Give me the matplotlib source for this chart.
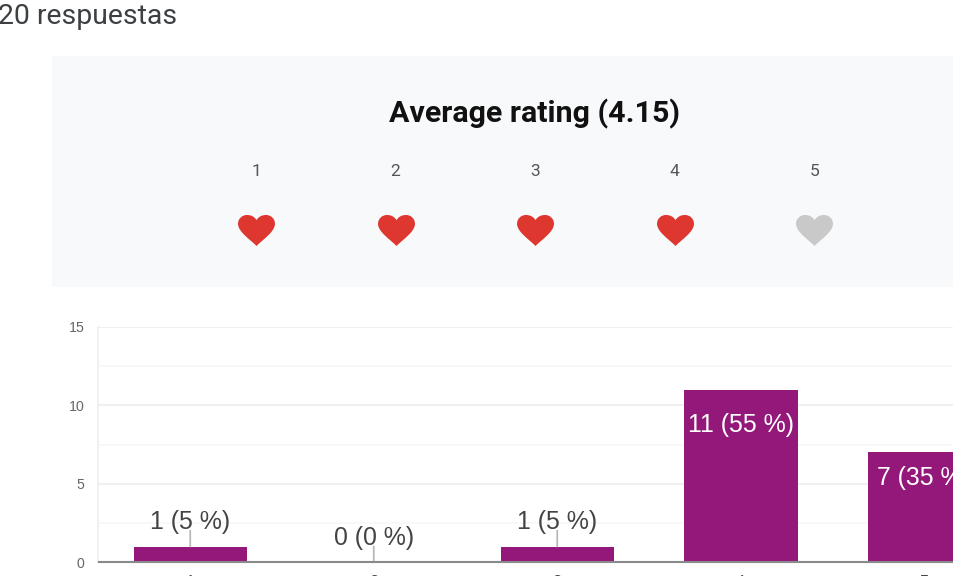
"""Resumen de respuestas: valoración media y gráfico de barras."""

import matplotlib

matplotlib.use("Agg")

import matplotlib.pyplot as plt
from matplotlib.patches import Rectangle
from matplotlib.path import Path

W, H = 954, 576

categories = ["1", "2", "3", "4", "5"]
counts = [1, 0, 1, 11, 7]
bar_labels = ["1 (5 %)", "0 (0 %)", "1 (5 %)", "11 (55 %)", "7 (35 %)"]
rating_levels = ["1", "2", "3", "4", "5"]
rating_filled = [True, True, True, True, False]
y_ticks = [0, 5, 10, 15]
y_minor_ticks = [2.5, 7.5, 12.5]
responses_text = "20 respuestas"
rating_title = "Average rating (4.15)"

PURPLE = "#94187A"
RED = "#DE3730"
GREY = "#C9C9C9"

# corazón más ancho que alto, con lóbulos redondos
HEART = Path(
    [
        (0, -0.42),
        (-0.16, -0.25), (-0.50, -0.04), (-0.50, 0.18),
        (-0.50, 0.33), (-0.38, 0.42), (-0.26, 0.42),
        (-0.14, 0.42), (-0.05, 0.37), (0, 0.28),
        (0.05, 0.37), (0.14, 0.42), (0.26, 0.42),
        (0.38, 0.42), (0.50, 0.33), (0.50, 0.18),
        (0.50, -0.04), (0.16, -0.25), (0, -0.42),
    ],
    [Path.MOVETO] + [Path.CURVE4] * 18,
)

fig = plt.figure(figsize=(W / 100, H / 100), dpi=100, facecolor="white")

# capa en píxeles para el encabezado y el panel de valoración
bg = fig.add_axes([0, 0, 1, 1])
bg.set_xlim(0, W)
bg.set_ylim(H, 0)
bg.axis("off")

bg.text(-2, 17, responses_text, family="Roboto", fontsize=20.4, color="#3c4043",
        va="center", ha="left")
bg.add_patch(Rectangle((52, 56), W, 231, facecolor="#F8F9FA", edgecolor="none"))
bg.text(535, 114, rating_title, family="Roboto", fontsize=21.9, fontweight="bold",
        color="#111111", va="center", ha="center")

for i, (level, filled) in enumerate(zip(rating_levels, rating_filled)):
    x = 256 + i * 139.6
    bg.text(x, 171, level, family="Roboto", fontsize=12.5, color="#555555",
            va="center", ha="center")
    bg.plot([x], [230], linestyle="none", marker=HEART, markersize=26.6,
            color=RED if filled else GREY, markeredgewidth=0)

# gráfico de barras, recortado por la derecha y por abajo
step = 183.5
left, bottom, top = 98.5, 562.3, 327.0
ax = fig.add_axes([left / W, 1 - bottom / H, (W - left) / W, (bottom - top) / H])
ax.patch.set_alpha(0)
ax.set_xlim(-0.5, -0.5 + (W - left) / step)
ax.set_ylim(0, 15)

ax.bar(range(len(counts)), counts, width=113.5 / step, color=PURPLE, zorder=3, clip_on=False)

ax.set_yticks(y_ticks)
ax.set_yticks(y_minor_ticks, minor=True)
ax.grid(True, axis="y", which="major", color="#EFEFEF", linewidth=1.3, zorder=0)
ax.grid(True, axis="y", which="minor", color="#F7F7F7", linewidth=1.1, zorder=0)
ax.tick_params(axis="y", which="both", length=0, pad=10, labelsize=10.2, labelcolor="#666666")
ax.set_yticklabels([str(t) for t in y_ticks], family="Liberation Sans")
ax.set_xticks(range(len(categories)), categories, family="Liberation Sans")
ax.tick_params(axis="x", length=0, pad=9.5, labelsize=12, labelcolor="#444444")

for side in ("top", "right"):
    ax.spines[side].set_visible(False)
ax.spines["left"].set_color("#EFEFEF")
ax.spines["left"].set_linewidth(1.2)
ax.spines["bottom"].set_color("#8A8A8A")
ax.spines["bottom"].set_linewidth(1.5)
ax.spines["bottom"].set_zorder(4)

for i, (count, label) in enumerate(zip(counts, bar_labels)):
    if count >= 5:
        offset = -35.5 if count > 10 else -25.5
        ax.annotate(label, (i, count), xytext=(0, offset * 0.72), textcoords="offset points",
                    ha="center", va="center", family="Liberation Sans", fontsize=17.9,
                    color="white", zorder=5)
    else:
        ax.annotate("", (i, count), xytext=(0, 16 * 0.72), textcoords="offset points",
                    arrowprops=dict(arrowstyle="-", color="#B5B5B5", linewidth=1.2,
                                    shrinkA=0, shrinkB=0), zorder=4)
        ax.annotate(label, (i, count), xytext=(0, 24.5 * 0.72), textcoords="offset points",
                    ha="center", va="center", family="Liberation Sans", fontsize=17.9,
                    color="#444444", zorder=5)

fig.savefig("out.png", dpi=100)
